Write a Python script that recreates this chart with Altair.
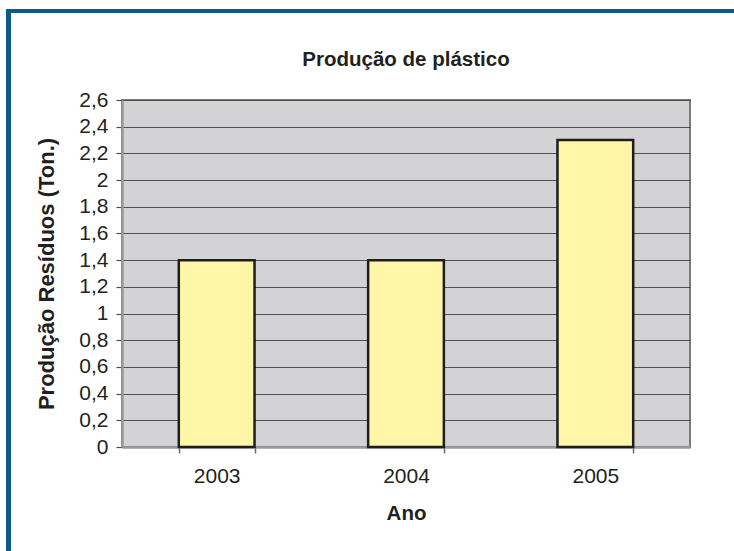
import altair as alt
import pandas as pd

anos = ["2003", "2004", "2005"]
producao = [1.4, 1.4, 2.3]
y_ticks = [0, 0.2, 0.4, 0.6, 0.8, 1.0, 1.2, 1.4, 1.6, 1.8, 2.0, 2.2, 2.4, 2.6]
titulo = "Produção de plástico"

df = pd.DataFrame({"ano": anos, "valor": producao})

FONT = "Liberation Sans"
BLUE = "#0b5a87"
TXT = "#231f20"

bars = alt.Chart(df).mark_bar(
    fill="#fff6a8", stroke="#1e1e1e", strokeWidth=2.5
).encode(
    x=alt.X(
        "ano:N",
        sort=anos,
        scale=alt.Scale(paddingInner=0.6, paddingOuter=0.3),
        axis=alt.Axis(
            title="Ano",
            labelAngle=0,
            tickBand="extent",
            ticks=True,
            tickSize=6,
            tickWidth=1.5,
            tickColor="#6a6a6a",
            domainColor="#9a9a9a",
            domainWidth=2.5,
            labelFont=FONT,
            labelFontSize=21,
            labelColor=TXT,
            labelPadding=12,
            titleFont=FONT,
            titleFontSize=20.5,
            titleFontWeight="bold",
            titleColor=TXT,
            titlePadding=17,
        ),
    ),
    y=alt.Y(
        "valor:Q",
        scale=alt.Scale(domain=[0, 2.6], nice=False),
        axis=alt.Axis(
            title="Produção Resíduos (Ton.)",
            values=y_ticks,
            labelExpr="replace(format(datum.value, '.1~f'), '.', ',')",
            grid=True,
            gridColor="#505050",
            gridWidth=1.2,
            tickSize=6,
            tickColor="#505050",
            tickWidth=1.2,
            domainColor="#9a9a9a",
            domainWidth=2.5,
            labelFont=FONT,
            labelFontSize=21,
            labelColor=TXT,
            labelPadding=8,
            titleFont=FONT,
            titleFontSize=22,
            titleFontWeight="bold",
            titleColor=TXT,
            titlePadding=20,
        ),
    ),
)

frame_data = alt.InlineData(values=[{"k": 1}])
left_border = alt.Chart(frame_data).mark_rule(color=BLUE, strokeWidth=5).encode(
    x=alt.value(-113.5), y=alt.value(-91), y2=alt.value(460)
)
top_border = alt.Chart(frame_data).mark_rule(color=BLUE, strokeWidth=4).encode(
    x=alt.value(-116), x2=alt.value(50 + 568), y=alt.value(-89)
)
title_text = alt.Chart(alt.InlineData(values=[{"t": titulo}])).mark_text(
    font=FONT, fontSize=20.5, fontWeight="bold", color=TXT,
    align="center", baseline="alphabetic"
).encode(
    text="t:N", x=alt.value(284), y=alt.value(-34)
)

chart = alt.layer(bars, left_border, top_border, title_text).properties(
    width=568,
    height=347,
    padding={"left": 122, "top": 100, "right": 44, "bottom": 104},
    autosize=alt.AutoSizeParams(type="none"),
    background="white",
).configure_view(
    fill="#d3d3d5", stroke="#7a7a7a", strokeWidth=2
)

chart.save("out.html", embed_options={"renderer": "svg", "actions": False})
